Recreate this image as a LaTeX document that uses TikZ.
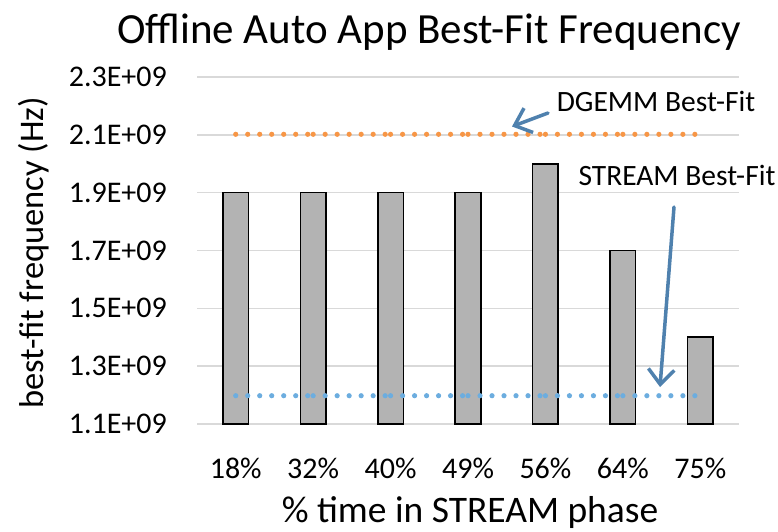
\documentclass[tikz,border=0pt]{standalone}
\usepackage{fontspec}
\setmainfont{Carlito}
\usetikzlibrary{arrows.meta}
\definecolor{gridc}{HTML}{D9D9D9}
\definecolor{barc}{HTML}{B3B3B3}
\definecolor{orangec}{HTML}{F79646}
\definecolor{bluec}{HTML}{6CADDF}
\definecolor{arrowc}{HTML}{4F81AE}
\tikzset{
  gridline/.style={draw=gridc, line width=1.6pt},
  barbox/.style={draw=black, fill=barc, line width=1.6pt},
  ticklab/.style={font=\fontsize{30}{34}\selectfont, inner sep=0pt},
  annot/.style={font=\fontsize{29.5}{34}\selectfont, inner sep=0pt},
  callout/.style={draw=arrowc, line width=3.5pt, line cap=round, -{Straight Barb[length=15pt,width=26pt,line width=3.5pt]}},
}
\begin{document}
\begin{tikzpicture}[x=1pt,y=-1pt]
\useasboundingbox (0,0) rectangle (778,531);
% gridlines and y tick labels
\foreach \k/\lab in {0/1.1,1/1.3,2/1.5,3/1.7,4/1.9,5/2.1,6/2.3}{
  \pgfmathsetmacro{\yy}{424-57.83*\k}
  \draw[gridline] (197,\yy) -- (739,\yy);
  \node[ticklab, anchor=east] (ytick\k) at (167,\yy) {\lab E+09};
}
% bars and x tick labels
\foreach \i/\v/\lab in {1/1.9/18,2/1.9/32,3/1.9/40,4/1.9/49,5/2.0/56,6/1.7/64,7/1.4/75}{
  \pgfmathsetmacro{\cx}{197+77.43*(\i-0.5)}
  \pgfmathsetmacro{\yt}{424-(\v-1.1)/0.2*57.83}
  \draw[barbox] (\cx-12.8,424) rectangle (\cx+12.8,\yt);
  \node[ticklab] (xtick\i) at (\cx,468) {\lab\%};
}
% dotted best-fit lines
\foreach \i in {1,...,6}{
  \foreach \k in {0,...,6}{
    \pgfmathsetmacro{\dx}{197+77.43*(\i-0.5)+12*\k}
    \fill[orangec] (\dx,134.3) circle (2.6);
    \fill[bluec] (\dx,395.7) circle (2.6);
  }
}
% titles
\node[font=\fontsize{43}{48}\selectfont, inner sep=0pt] (title) at (429,32) {Offline Auto App Best-Fit Frequency};
\node[font=\fontsize{34.5}{38}\selectfont, inner sep=0pt, rotate=90] (ytitle) at (34,253) {best-fit frequency (Hz)};
\node[font=\fontsize{37.5}{42}\selectfont, inner sep=0pt] (xtitle) at (470,512) {\% time in STREAM phase};
% annotations
\node[annot] (dg) at (656,101) {DGEMM Best-Fit};
\node[annot] (st) at (677,175) {STREAM Best-Fit};
\coordinate (dgtail) at (548,113);
\coordinate (dghead) at (512,126.5);
\coordinate (sttail) at (674,207);
\coordinate (sthead) at (660,387);
\draw[callout] (dgtail) -- (dghead);
\draw[callout] (sttail) -- (sthead);
\end{tikzpicture}
\end{document}
